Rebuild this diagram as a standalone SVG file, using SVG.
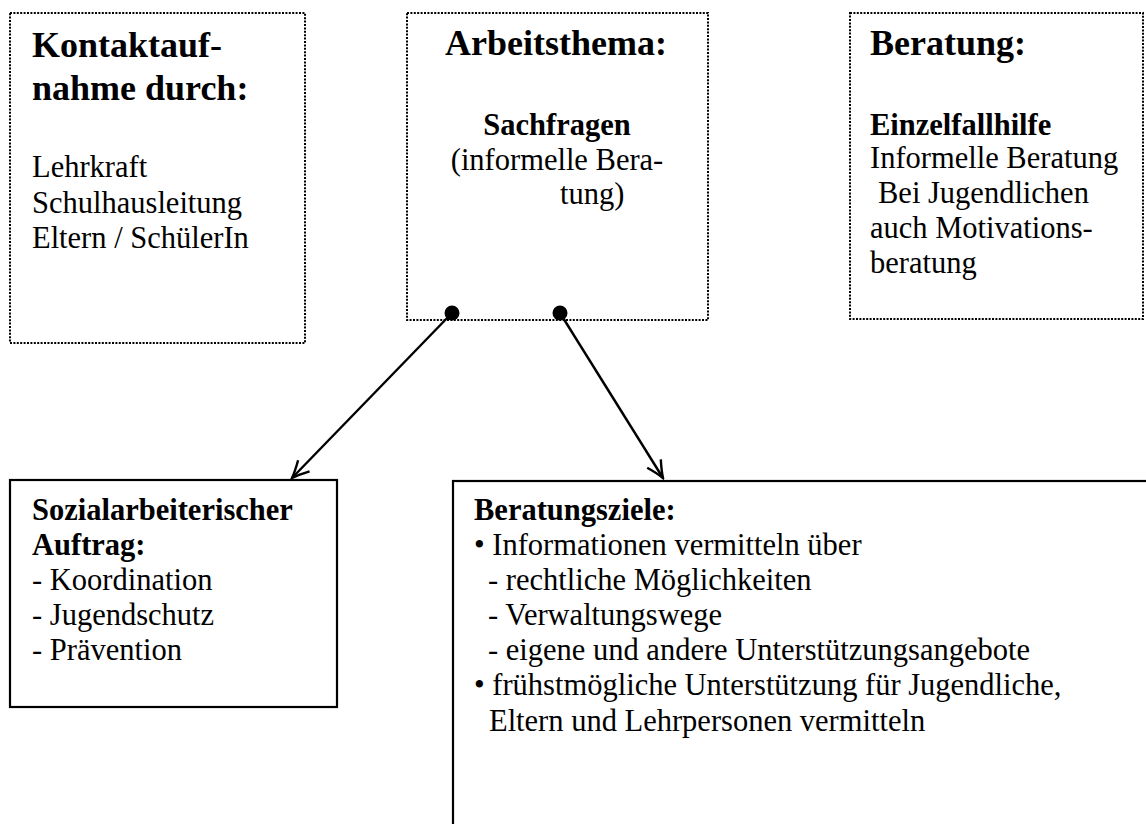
<svg xmlns="http://www.w3.org/2000/svg" width="1146" height="824" viewBox="0 0 1146 824">
<style>
.dot{fill:none;stroke:#000;stroke-width:2;stroke-dasharray:2 1.4}
.solid{fill:none;stroke:#000;stroke-width:2.2}
text{font-family:"Liberation Serif","Times New Roman",serif;fill:#000}
.h{font-size:36px;font-weight:bold}
.b{font-size:30.5px;font-weight:bold}
.t{font-size:30.5px}
.c{text-anchor:middle}
.conn{stroke:#000;stroke-width:2.4;fill:none}
</style>
<defs>
<marker id="arr" viewBox="-20 -11 22 22" markerWidth="22" markerHeight="22" refX="0" refY="0" orient="auto" markerUnits="userSpaceOnUse">
<path d="M-17,-8 Q-7,-2.5 0,0 Q-7,2.5 -17,8" fill="none" stroke="#000" stroke-width="2.4"/>
</marker>
</defs>
<rect width="1146" height="824" fill="#fff"/>
<g id="kontakt">
<rect class="dot" x="10" y="13" width="295" height="330"/>
<text class="h" x="32" y="57">Kontaktauf-</text>
<text class="h" x="32" y="100">nahme durch:</text>
<text class="t" x="32" y="177">Lehrkraft</text>
<text class="t" x="32" y="213">Schulhausleitung</text>
<text class="t" x="32" y="248">Eltern / SchülerIn</text>
</g>
<g id="arbeitsthema">
<rect class="dot" x="407" y="13" width="301" height="307"/>
<text class="h c" x="556" y="55">Arbeitsthema:</text>
<text class="b c" x="557" y="135">Sachfragen</text>
<text class="t c" x="557" y="170">(informelle Bera-</text>
<text class="t" x="560" y="204">tung)</text>
</g>
<g id="beratung">
<rect class="dot" x="850" y="13" width="293" height="306"/>
<text class="h" x="870" y="55">Beratung:</text>
<text class="b" x="870" y="135">Einzelfallhilfe</text>
<text class="t" x="870" y="168">Informelle Beratung</text>
<text class="t" x="878" y="203">Bei Jugendlichen</text>
<text class="t" x="870" y="238">auch Motivations-</text>
<text class="t" x="870" y="273">beratung</text>
</g>
<g id="auftrag">
<rect class="solid" x="10" y="480" width="327" height="227"/>
<text class="b" x="32" y="520">Sozialarbeiterischer</text>
<text class="b" x="32" y="555">Auftrag:</text>
<text class="t" x="32" y="590">- Koordination</text>
<text class="t" x="32" y="625">- Jugendschutz</text>
<text class="t" x="32" y="660">- Prävention</text>
</g>
<g id="ziele">
<rect class="solid" x="453" y="481" width="720" height="400"/>
<text class="b" x="474" y="520">Beratungsziele:</text>
<text class="t" x="474" y="555">• Informationen vermitteln über</text>
<text class="t" x="488" y="590">- rechtliche Möglichkeiten</text>
<text class="t" x="488" y="625">- Verwaltungswege</text>
<text class="t" x="488" y="660">- eigene und andere Unterstützungsangebote</text>
<text class="t" x="474" y="695">• frühstmögliche Unterstützung für Jugendliche,</text>
<text class="t" x="489" y="731">Eltern und Lehrpersonen vermitteln</text>
</g>
<g id="connectors">
<line class="conn" x1="452" y1="313" x2="292" y2="478" marker-end="url(#arr)"/>
<line class="conn" x1="560" y1="313" x2="663" y2="478" marker-end="url(#arr)"/>
<circle cx="452" cy="313" r="7.5" fill="#000"/>
<circle cx="560" cy="313" r="7.5" fill="#000"/>
</g>
</svg>
